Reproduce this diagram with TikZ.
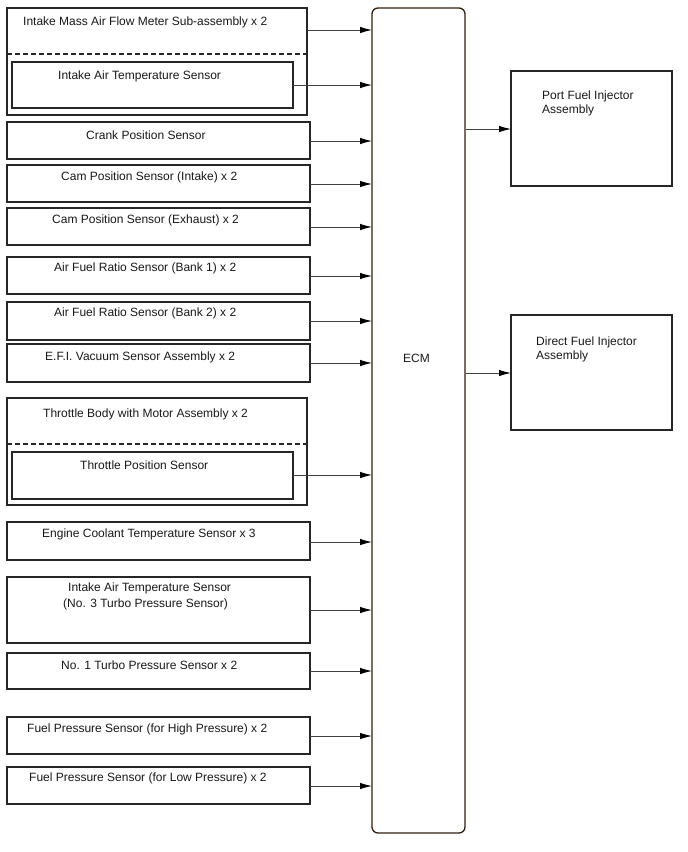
\documentclass[tikz,border=0pt]{standalone}
\usepackage{fontspec}
\setmainfont{Liberation Sans}
\usetikzlibrary{arrows.meta}
\tikzset{
  box/.style={draw=black!85, line width=1.2pt, inner sep=0pt, outer sep=0pt, anchor=north west, fill=white},
  ecmbox/.style={draw=black!75!brown, line width=1.3pt, rounded corners=6pt, inner sep=0pt, outer sep=0pt, anchor=north west},
  lbl/.style={anchor=base west, inner sep=0pt, font=\fontsize{12}{14}\selectfont, text=black!90},
  arr/.style={draw=black!75, line width=0.9pt, -{Latex[length=12pt,width=6.5pt,color=black]}},
  dashline/.style={draw=black!85, line width=1.3pt, dash pattern=on 5pt off 3pt}
}
\begin{document}
\begin{tikzpicture}[x=1pt,y=-1pt]
\useasboundingbox (0,0) rectangle (688,852);
% ECM
\node[ecmbox, minimum width=93pt, minimum height=825pt] (ecm) at (372,8) {};
\node[lbl] (ecmt) at (403,362) {ECM};
% outputs
\node[box, minimum width=161pt, minimum height=115pt] (pfi) at (511,71) {};
\node[lbl] (pfit) at (542,99) {Port Fuel Injector};
\node[lbl] (pfit2) at (542,113) {Assembly};
\node[box, minimum width=161pt, minimum height=115pt] (dfi) at (511,315) {};
\node[lbl] (dfit) at (536,345) {Direct Fuel Injector};
\node[lbl] (dfit2) at (536,359) {Assembly};
\coordinate (o1) at (466,129);
\coordinate (o2) at (466,373);
\draw[arr] (o1) -- (o1 -| pfi.west);
\draw[arr] (o2) -- (o2 -| dfi.west);
% MAF
\node[box, minimum width=300pt, minimum height=107pt] (maf) at (7,8) {};
\draw[dashline] (maf.west |- 0,54) -- (maf.east |- 0,54);
\node[box, minimum width=281pt, minimum height=46pt] (iat) at (12,62) {};
\node[lbl] (maft) at (23,25) {Intake Mass Air Flow Meter Sub-assembly x 2};
\node[lbl] (iatt) at (58,79) {Intake Air Temperature Sensor};
\coordinate (a1) at (maf.east |- 0,30);
\coordinate (a2) at (iat.east |- 0,85);
\draw[arr] (a1) -- (a1 -| ecm.west);
\draw[arr] (a2) -- (a2 -| ecm.west);
% simple sensors
\node[box, minimum width=303pt, minimum height=37pt] (crank) at (7,122) {};
\node[lbl] (crankt) at (86,139) {Crank Position Sensor};
\node[box, minimum width=303pt, minimum height=37pt] (cami) at (7,165) {};
\node[lbl] (camit) at (61,180) {Cam Position Sensor (Intake) x 2};
\node[box, minimum width=303pt, minimum height=37pt] (came) at (7,208) {};
\node[lbl] (camet) at (52,223) {Cam Position Sensor (Exhaust) x 2};
\node[box, minimum width=303pt, minimum height=37pt] (afr1) at (7,257) {};
\node[lbl] (afr1t) at (54,271) {Air Fuel Ratio Sensor (Bank 1) x 2};
\node[box, minimum width=303pt, minimum height=38pt] (afr2) at (7,302) {};
\node[lbl] (afr2t) at (54,316) {Air Fuel Ratio Sensor (Bank 2) x 2};
\node[box, minimum width=303pt, minimum height=38pt] (efi) at (7,344) {};
\node[lbl] (efit) at (45,360) {E.F.I. Vacuum Sensor Assembly x 2};
% throttle body
\node[box, minimum width=300pt, minimum height=107pt] (tb) at (7,398) {};
\draw[dashline] (tb.west |- 0,444) -- (tb.east |- 0,444);
\node[box, minimum width=281pt, minimum height=47pt] (tps) at (12,452) {};
\node[lbl] (tbt) at (43,417) {Throttle Body with Motor Assembly x 2};
\node[lbl] (tpst) at (80,469) {Throttle Position Sensor};
\coordinate (a3) at (tps.east |- 0,475);
\draw[arr] (a3) -- (a3 -| ecm.west);
% remaining
\node[box, minimum width=303pt, minimum height=38pt] (ect) at (7,522) {};
\node[lbl] (ectt) at (42,537) {Engine Coolant Temperature Sensor x 3};
\node[box, minimum width=303pt, minimum height=66pt] (iat3) at (7,577) {};
\node[lbl] (iat3t) at (68,591) {Intake Air Temperature Sensor};
\node[lbl] (iat3t2) at (63,607) {(No. 3 Turbo Pressure Sensor)};
\node[box, minimum width=303pt, minimum height=36pt] (tp1) at (7,653) {};
\node[lbl] (tp1t) at (61,669) {No. 1 Turbo Pressure Sensor x 2};
\node[box, minimum width=303pt, minimum height=37pt] (fph) at (7,717) {};
\node[lbl] (fpht) at (27,732) {Fuel Pressure Sensor (for High Pressure) x 2};
\node[box, minimum width=303pt, minimum height=37pt] (fpl) at (7,767) {};
\node[lbl] (fplt) at (29,781) {Fuel Pressure Sensor (for Low Pressure) x 2};
% arrows to ECM
\coordinate (b1) at (crank.east |- 0,141);
\coordinate (b2) at (cami.east |- 0,184);
\coordinate (b3) at (came.east |- 0,227);
\coordinate (b4) at (afr1.east |- 0,276);
\coordinate (b5) at (afr2.east |- 0,321);
\coordinate (b6) at (efi.east |- 0,363);
\coordinate (b7) at (ect.east |- 0,542);
\coordinate (b8) at (iat3.east |- 0,610);
\coordinate (b9) at (tp1.east |- 0,671);
\coordinate (b10) at (fph.east |- 0,736);
\coordinate (b11) at (fpl.east |- 0,786);
\foreach \c in {b1,b2,b3,b4,b5,b6,b7,b8,b9,b10,b11}
  \draw[arr] (\c) -- (\c -| ecm.west);
\end{tikzpicture}
\end{document}
